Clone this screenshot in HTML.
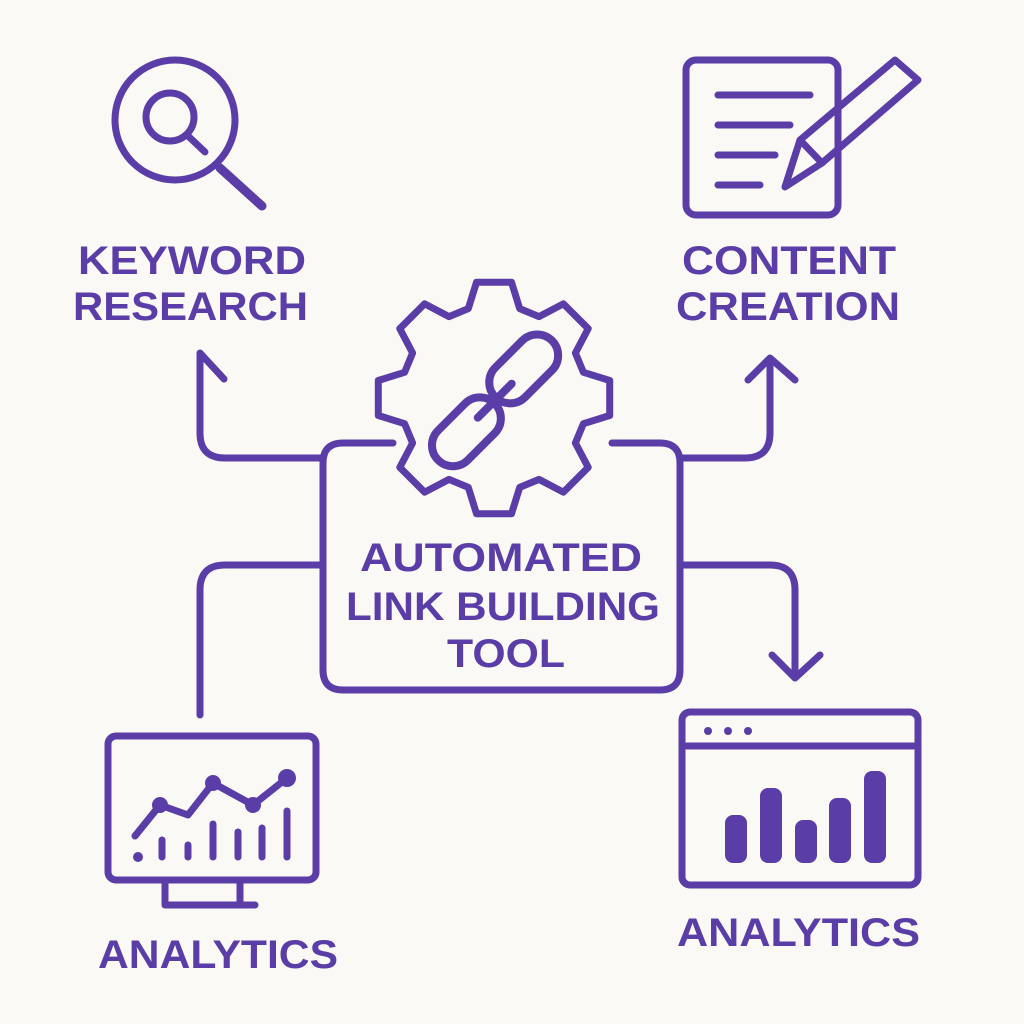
<!DOCTYPE html>
<html><head><meta charset="utf-8"><style>
html,body{margin:0;padding:0;background:#fbf9f6}
svg{display:block}
text{font-family:"Liberation Sans",sans-serif;font-weight:bold;fill:#5b3da8}
</style></head><body>
<svg id="s" width="1024" height="1024" viewBox="0 0 1024 1024">
<rect width="1024" height="1024" fill="#fbf9f6"/>
<g fill="none" stroke="#5b3da8" stroke-width="7" stroke-linecap="round" stroke-linejoin="round">
<circle cx="175" cy="120" r="60"/>
<circle cx="170" cy="117" r="24"/>
<line x1="187" y1="135" x2="205" y2="152"/>
<line x1="220" y1="168" x2="262" y2="206" stroke-width="9"/>
<rect x="686" y="60" width="152" height="155" rx="10"/>
<line x1="718" y1="95" x2="810" y2="95"/>
<line x1="718" y1="125" x2="790" y2="125"/>
<line x1="718" y1="155" x2="775" y2="155"/>
<line x1="718" y1="185" x2="760" y2="185"/>
<path d="M785 187 L800 140 L895 60 L918 80 L822 163 Z"/>
<line x1="800" y1="140" x2="822" y2="163"/>
<path d="M393 443 H343 Q323 443 323 463 V670 Q323 690 343 690 H660 Q680 690 680 670 V463 Q680 443 660 443 H612"/>
<path d="M323 458 H225 Q200 458 200 433 V353 L224 379"/>
<path d="M680 458 H745 Q770 458 770 433 V360"/>
<path d="M748 380 L770 358 L795 380"/>
<path d="M323 565 H225 Q200 565 200 590 V715"/>
<path d="M680 565 H770 Q795 565 795 590 V675"/>
<path d="M772 655 L795 678 L820 655"/>
<path id="gear"/>
<g transform="rotate(-45 494 400)" stroke-width="8">
<rect x="497" y="378" width="80" height="42" rx="21"/>
<rect x="412" y="382" width="80" height="42" rx="21"/>
<line x1="470" y1="401" x2="518" y2="401"/>
</g>
<rect x="108" y="736" width="208" height="144" rx="8"/>
<line x1="165" y1="880" x2="165" y2="903"/>
<line x1="240" y1="880" x2="240" y2="903"/>
<line x1="165" y1="905" x2="255" y2="905"/>
<polyline points="135,836 160,805 188,815 213,783 253,805 287,778"/>
<line x1="162" y1="840" x2="162" y2="857"/>
<line x1="188" y1="845" x2="188" y2="857"/>
<line x1="213" y1="824" x2="213" y2="857"/>
<line x1="238" y1="832" x2="238" y2="857"/>
<line x1="262" y1="828" x2="262" y2="857"/>
<line x1="287" y1="811" x2="287" y2="857"/>
<rect x="682" y="712" width="236" height="173" rx="8"/>
<line x1="682" y1="746" x2="918" y2="746"/>
</g>
<g fill="#5b3da8">
<circle cx="160" cy="805" r="8"/><circle cx="213" cy="783" r="8"/><circle cx="253" cy="805" r="8"/><circle cx="287" cy="778" r="9"/>
<circle cx="138" cy="857" r="5"/>
<circle cx="708" cy="731" r="4"/><circle cx="728" cy="731" r="4"/><circle cx="748" cy="731" r="4"/>
<rect x="725" y="815" width="22" height="48" rx="8"/>
<rect x="760" y="788" width="22" height="75" rx="8"/>
<rect x="795" y="820" width="22" height="43" rx="8"/>
<rect x="829" y="798" width="22" height="65" rx="8"/>
<rect x="864" y="771" width="22" height="92" rx="8"/>
</g>
<text x="78" y="274" font-size="40" textLength="228" lengthAdjust="spacingAndGlyphs">KEYWORD</text>
<text x="73" y="320" font-size="40" textLength="235" lengthAdjust="spacingAndGlyphs">RESEARCH</text>
<text x="682" y="274" font-size="40" textLength="214" lengthAdjust="spacingAndGlyphs">CONTENT</text>
<text x="676" y="320" font-size="40" textLength="224" lengthAdjust="spacingAndGlyphs">CREATION</text>
<text x="360" y="571" font-size="40" textLength="282" lengthAdjust="spacingAndGlyphs">AUTOMATED</text>
<text x="346" y="620" font-size="40" textLength="314" lengthAdjust="spacingAndGlyphs">LINK BUILDING</text>
<text x="447" y="667" font-size="40" textLength="118" lengthAdjust="spacingAndGlyphs">TOOL</text>
<text x="98" y="968" font-size="40" textLength="240" lengthAdjust="spacingAndGlyphs">ANALYTICS</text>
<text x="677" y="946" font-size="40" textLength="243" lengthAdjust="spacingAndGlyphs">ANALYTICS</text>
</svg>
<script>
(function(){
var cx=494,cy=398,R=117,r=93,n=8,d="";
for(var i=0;i<n;i++){
 var a=i*2*Math.PI/n - Math.PI/2;
 var pts=[[r,a-0.28],[R,a-0.15],[R,a+0.15],[r,a+0.28]];
 pts.forEach(function(p,j){
  var x=cx+p[0]*Math.cos(p[1]),y=cy+p[0]*Math.sin(p[1]);
  d+=(i==0&&j==0?"M":"L")+x.toFixed(1)+" "+y.toFixed(1)+" ";
 });
}
document.getElementById("gear").setAttribute("d",d+"Z");
})();
</script>
</body></html>
